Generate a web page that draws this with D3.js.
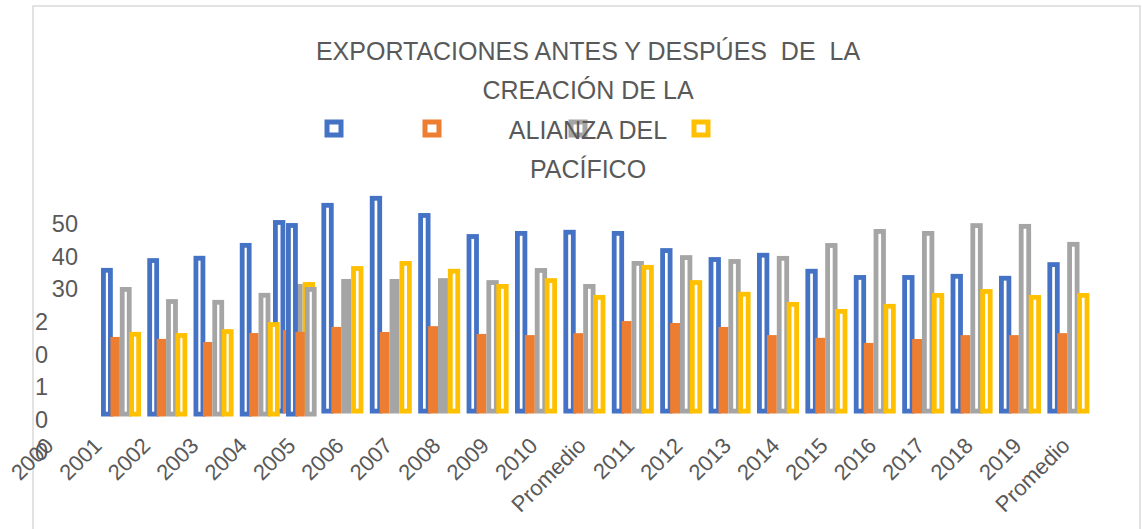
<!DOCTYPE html>
<html>
<head>
<meta charset="utf-8">
<script src="https://cdn.jsdelivr.net/npm/d3@7"></script>
<style>
  body { margin: 0; background: #fff; }
  text { font-family: "Liberation Sans", Arial, sans-serif; }
</style>
</head>
<body>
<div id="chart"></div>
<script>
// categories on the axis (22 slots)
var categories = ["2000", "2001", "2002", "2003", "2004", "2005", "2006", "2007", "2008", "2009", "2010",
  "Promedio", "2011", "2012", "2013", "2014", "2015", "2016", "2017", "2018", "2019", "Promedio"];

// front chart: values per category (nothing drawn for 2000-2004)
var serie1 = [null, null, null, null, null, 49.6, 54.0, 55.8, 51.4, 46.0, 46.8, 47.1, 46.8, 42.4, 40.1, 41.2, 37.1, 35.5, 35.5, 35.8, 35.3, 38.8];
var serie2 = [null, null, null, null, null, 21.4, 22.2, 20.9, 22.4, 20.4, 20.1, 20.6, 23.7, 23.2, 22.2, 20.1, 19.4, 18.1, 19.1, 20.1, 20.1, 20.6];
var serie3 = [null, null, null, null, null, 33.2, 34.5, 34.5, 34.7, 34.2, 37.3, 33.2, 39.1, 40.6, 39.6, 40.4, 43.7, 47.3, 46.8, 48.8, 48.6, 44.0];
var serie4 = [null, null, null, null, null, 33.7, 37.8, 39.1, 37.1, 33.2, 34.7, 30.4, 38.1, 34.2, 31.2, 28.6, 26.8, 28.1, 30.9, 31.9, 30.4, 30.9];

// chart left behind on the left side (5 groups)
var back1 = [38.1, 40.6, 41.2, 44.5, 49.6];
var back2 = [20.4, 19.9, 19.1, 21.4, 21.7];
var back3 = [33.2, 30.1, 29.9, 31.7, 33.2];
var back4 = [21.7, 21.4, 22.4, 24.2, null];

var yTickLabels = ["50", "40", "30", "20", "10", "0"];
var titleLines = ["EXPORTACIONES ANTES Y DESPÚES  DE  LA", "CREACIÓN DE LA", "ALIANZA DEL", "PACÍFICO"];

var colors = ["#4472C4", "#ED7D31", "#A5A5A5", "#FFC000"];
var textColor = "#595959";

var width = 1142, height = 529;

var svg = d3.select("#chart").append("svg")
  .attr("width", width)
  .attr("height", height);

svg.append("rect").attr("width", width).attr("height", height).attr("fill", "#fff");

// chart border
svg.append("rect")
  .attr("x", 33).attr("y", 6)
  .attr("width", 1107).attr("height", 600)
  .attr("fill", "none")
  .attr("stroke", "#d9d9d9")
  .attr("stroke-width", 1.5);

var k = 3.9; // px per unit
var yFront = d3.scaleLinear().domain([0, 60]).range([413.5, 413.5 - 60 * k]);
var yBack = d3.scaleLinear().domain([0, 60]).range([416.5, 416.5 - 60 * k]);

var xFront = d3.scaleBand()
  .domain(d3.range(categories.length))
  .range([26.6, 26.6 + categories.length * 48.4])
  .paddingInner(0.182)
  .paddingOuter(0.091);

var xBack = d3.scaleBand()
  .domain(d3.range(back1.length))
  .range([96.7, 96.7 + back1.length * 46.25])
  .paddingInner(0.187)
  .paddingOuter(0.0935);

var sw = 4.8;

function drawBars(g, x, y, series, solid) {
  var xs = d3.scaleBand().domain(d3.range(series.length)).range([0, x.bandwidth()]);
  series.forEach(function(values, s) {
    values.forEach(function(v, i) {
      if (v == null) return;
      var x0 = x(i) + xs(s);
      var top = y(v), base = y(0);
      if (solid(s, i)) {
        g.append("rect")
          .attr("x", x0).attr("y", top)
          .attr("width", xs.bandwidth()).attr("height", base - top)
          .attr("fill", colors[s]);
      } else {
        var outer = xs.bandwidth() + 2.4;
        g.append("rect")
          .attr("x", x0 + sw / 2).attr("y", top + sw / 2)
          .attr("width", outer - sw).attr("height", base - top - sw)
          .attr("fill", "#fff")
          .attr("stroke", colors[s])
          .attr("stroke-width", sw);
      }
    });
  });
}

// legend (no names shown)
var legendX = [334, 432, 578, 701];
colors.forEach(function(c, i) {
  svg.append("rect")
    .attr("x", legendX[i] - 7).attr("y", 122)
    .attr("width", 14).attr("height", 13)
    .attr("fill", "#fff")
    .attr("stroke", c)
    .attr("stroke-width", 5);
});

// title
svg.append("g").selectAll("text")
  .data(titleLines)
  .enter().append("text")
  .attr("x", 588)
  .attr("y", function(d, i) { return 60 + i * 39.3; })
  .attr("text-anchor", "middle")
  .attr("fill", textColor)
  .style("font-size", "25px")
  .style("white-space", "pre")
  .text(function(d) { return d; });

// front chart first, then the one on the left over it
drawBars(svg.append("g"), xFront, yFront, [serie1, serie2, serie3, serie4], function(s, i) {
  return s == 1 || (s == 2 && i <= 8);
});
drawBars(svg.append("g"), xBack, yBack, [back1, back2, back3, back4], function(s) {
  return s == 1;
});

// x axis labels
var xAxis = svg.append("g")
  .attr("transform", "translate(0," + yFront(0) + ")")
  .call(d3.axisBottom(xFront).tickSize(0).tickFormat(function(i) { return categories[i]; }));
xAxis.select(".domain").remove();
xAxis.selectAll("text")
  .attr("x", 0).attr("y", 0).attr("dy", 0)
  .attr("transform", "translate(4,33.5) rotate(-45)")
  .attr("text-anchor", "end")
  .attr("fill", textColor)
  .style("font-size", "22px")
  .style("font-family", "Liberation Sans, Arial, sans-serif");

// y axis labels: the small ones broke into one digit per line
var lines = [];
yTickLabels.forEach(function(t) {
  if (+t >= 30) lines.push({ text: t, wrapped: false });
  else t.split("").forEach(function(c) { lines.push({ text: c, wrapped: true }); });
});
var yLine = d3.scalePoint().domain(d3.range(lines.length)).range([224, 452]);
svg.append("g").selectAll("text")
  .data(lines)
  .enter().append("text")
  .attr("x", function(d) { return d.wrapped ? 35 : 78; })
  .attr("y", function(d, i) { return yLine(i); })
  .attr("dy", "0.35em")
  .attr("text-anchor", function(d) { return d.wrapped ? "start" : "end"; })
  .attr("fill", textColor)
  .style("font-size", "23.5px")
  .text(function(d) { return d.text; });
</script>
</body>
</html>
